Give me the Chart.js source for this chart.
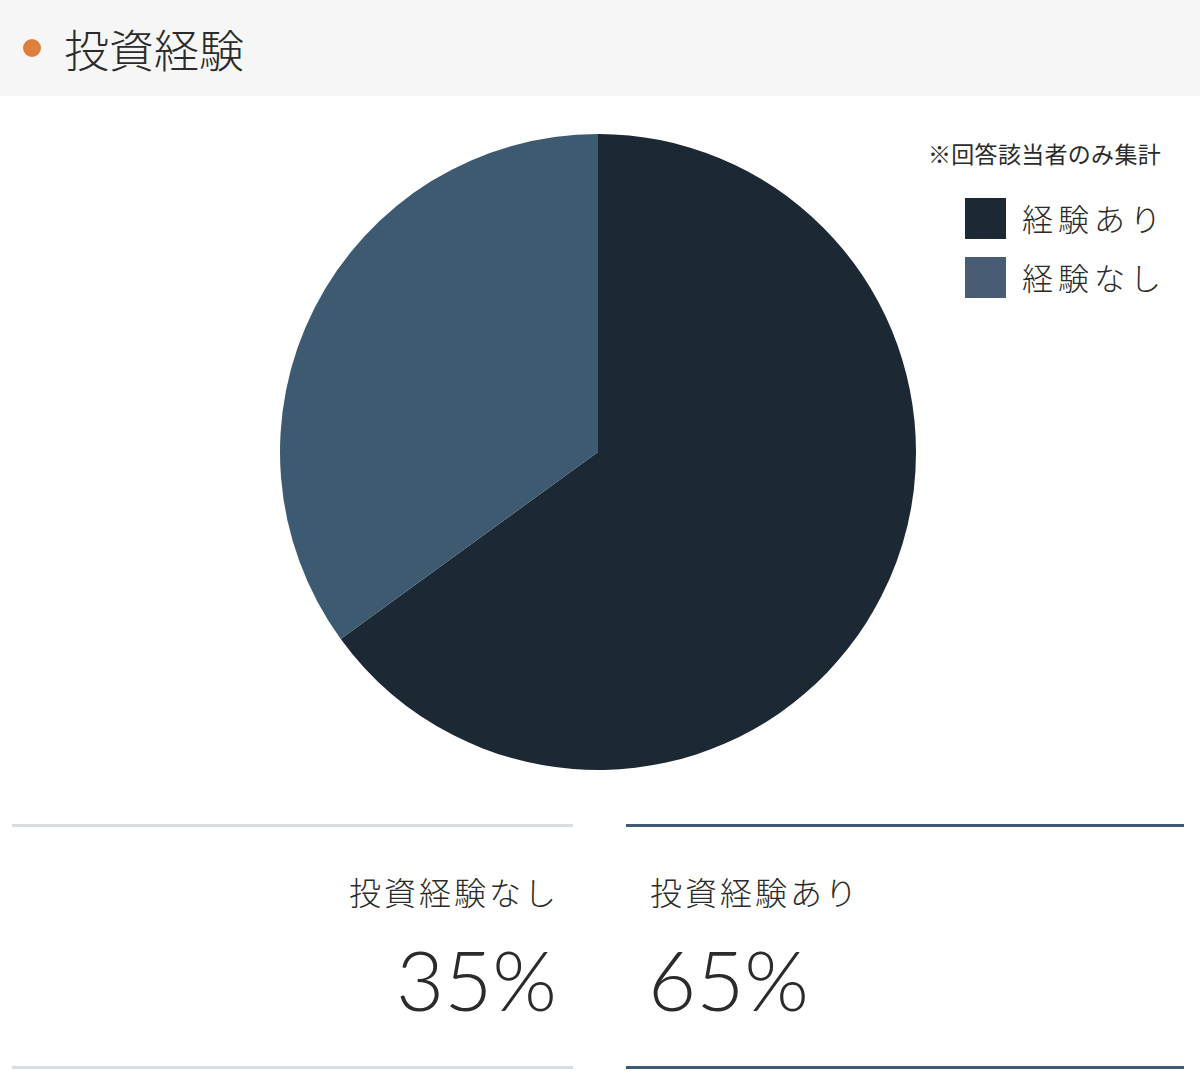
<!DOCTYPE html>
<html lang="ja">
<head>
<meta charset="utf-8">
<script src="https://cdn.jsdelivr.net/npm/chart.js@4.4.0/dist/chart.umd.min.js"></script>
<style>
  body { margin: 0; width: 1200px; height: 1090px; background: #fff; position: relative;
         font-family: "Noto Sans CJK JP", "Noto Sans", sans-serif; color: #2b2b2b; overflow: hidden; }
  .head { position: absolute; left: 0; top: 0; width: 1200px; height: 96px; background: #f5f6f5; }
  .dot { position: absolute; left: 23px; top: 39px; width: 18px; height: 18px; border-radius: 50%; background: #de7f3b; }
  .title { position: absolute; left: 64px; top: 21px; font-size: 45px; line-height: 56px; font-weight: 300; color: #2b2b2b; }
  #wrap { position: absolute; left: 278px; top: 132px; width: 640px; height: 640px; }
  .note { position: absolute; right: 39px; top: 139px; font-size: 23px; line-height: 28px; letter-spacing: 0.3px; color: #2b2b2b; }
  .leg { position: absolute; left: 965px; font-size: 31px; line-height: 40px; letter-spacing: 5px; font-weight: 300; }
  .leg span.box { position: absolute; left: 0; top: 0; width: 41px; height: 41px; }
  .leg span.txt { position: absolute; left: 57px; top: 0; white-space: nowrap; }
  .rule { position: absolute; height: 3px; }
  .lab { position: absolute; top: 869px; font-size: 32px; line-height: 44px; letter-spacing: 3px; font-weight: 300; white-space: nowrap; }
  .pct { position: absolute; top: 929px; font-family: Lato, sans-serif; font-weight: 300; font-size: 83px; line-height: 100px; white-space: nowrap; }
</style>
</head>
<body>
<div class="head"><div class="dot"></div><div class="title">投資経験</div></div>
<div id="wrap"><canvas id="chart" width="640" height="640"></canvas></div>
<div class="note">※回答該当者のみ集計</div>
<div id="legend"></div>

<div class="rule" style="left:12px; width:561px; top:824px; background:#d6dee5"></div>
<div class="rule" style="left:626px; width:558px; top:824px; background:#3f5a72"></div>
<div class="rule" style="left:12px; width:561px; top:1066px; background:#d6dee5"></div>
<div class="rule" style="left:626px; width:558px; top:1066px; background:#3f5a72"></div>
<div id="stats"></div>

<script>
// Investment experience pie
const labels = ["経験あり", "経験なし"];
const values = [65, 35];
const sliceColors = ["#1c2935", "#3d5a70"];
const legendColors = ["#1c2935", "#485d73"];
const statLabels = ["投資経験あり", "投資経験なし"];

// HTML legend, top right
const legend = document.getElementById("legend");
labels.forEach((l, i) => {
  const row = document.createElement("div");
  row.className = "leg";
  row.style.top = (198 + i * 59) + "px";
  row.innerHTML = '<span class="box" style="background:' + legendColors[i] + '"></span><span class="txt">' + l + "</span>";
  legend.appendChild(row);
});

// bottom figures: "なし" on the left (right aligned), "あり" on the right
const stats = document.getElementById("stats");
function addStat(i, side) {
  const lab = document.createElement("div");
  lab.className = "lab";
  lab.textContent = statLabels[i];
  const pct = document.createElement("div");
  pct.className = "pct";
  pct.textContent = values[i] + "%";
  if (side === "right") {
    lab.style.right = (1200 - 559) + "px";
    pct.style.right = (1200 - 557) + "px";
  } else {
    lab.style.left = "650px";
    pct.style.left = "648px";
  }
  stats.appendChild(lab);
  stats.appendChild(pct);
}
addStat(1, "right");
addStat(0, "left");

const ctx = document.getElementById("chart").getContext("2d");
new Chart(ctx, {
  type: "pie",
  data: {
    labels: labels,
    datasets: [{
      data: values,
      backgroundColor: sliceColors,
      borderWidth: 0,
    }],
  },
  options: {
    responsive: false,
    animation: false,
    layout: { padding: 2 },
    plugins: {
      legend: { display: false },
      tooltip: { enabled: false },
    },
  },
});
</script>
</body>
</html>
